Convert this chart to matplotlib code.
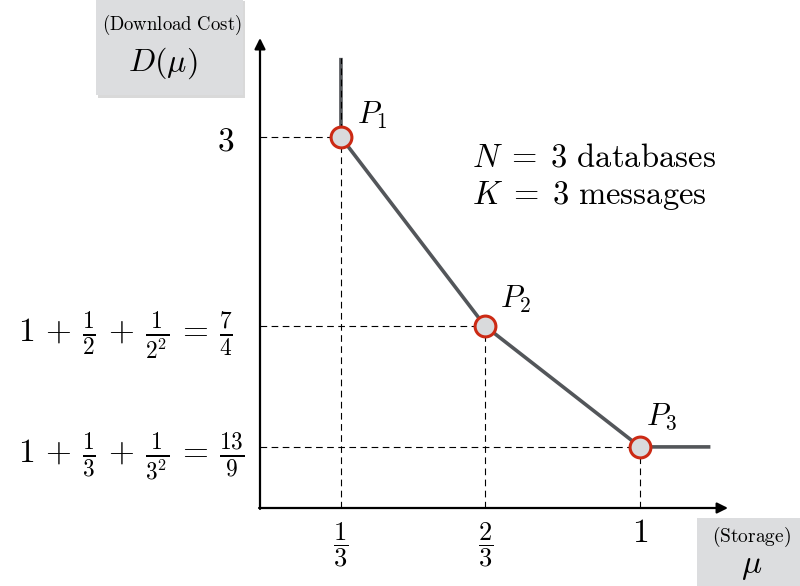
import numpy as np
import matplotlib
matplotlib.use('Agg')
import matplotlib.pyplot as plt
from matplotlib.patches import Rectangle
from matplotlib.transforms import ScaledTranslation

plt.rcParams['mathtext.fontset'] = 'cm'

# corner points of the storage / download cost tradeoff
mu_pts = [1/3, 2/3, 1.0]
D_pts = [3.0, 7/4, 13/9]
pt_names = [r'$P_1$', r'$P_2$', r'$P_3$']

x_ticklabels = [r'$\dfrac{1}{3}$', r'$\dfrac{2}{3}$', r'$1$']
y_ticklabels = [r'$1\,+\,\frac{1}{3}\,+\,\frac{1}{3^2}\,=\,\frac{13}{9}$',
                r'$1\,+\,\frac{1}{2}\,+\,\frac{1}{2^2}\,=\,\frac{7}{4}$',
                r'$3$']

# curve goes up (D -> inf) left of P1 and stays flat right of P3
D_top = 3.48
mu_end = 1.2

# the drawing is schematic, not to scale: piecewise axis mapping
mu_anchor = [0.0, 1/3, 2/3, 1.0, 1.25]
mu_pos = [0.0, 0.173, 0.481, 0.812, 1.0]
D_anchor = [1.0, 13/9, 7/4, 3.0, 3.6]
D_pos = [0.0, 0.130, 0.387, 0.789, 1.0]


def fwd_x(v):
    return np.interp(v, mu_anchor, mu_pos)

def inv_x(v):
    return np.interp(v, mu_pos, mu_anchor)

def fwd_y(v):
    return np.interp(v, D_anchor, D_pos)

def inv_y(v):
    return np.interp(v, D_pos, D_anchor)


fig = plt.figure(figsize=(8, 5.86), dpi=100)
ax = fig.add_axes([0.325, 0.1331, 0.585, 0.802])
ax.set_xscale('function', functions=(fwd_x, inv_x))
ax.set_yscale('function', functions=(fwd_y, inv_y))
ax.set_xlim(0, 1.25)
ax.set_ylim(1, 3.6)

for s in ax.spines.values():
    s.set_visible(False)
arrow = dict(arrowstyle='-|>', color='k', lw=1.6, mutation_scale=16,
             shrinkA=0, shrinkB=0)
ax.annotate('', xy=(1.0, 0), xytext=(-0.002, 0), xycoords='axes fraction',
            arrowprops=arrow, annotation_clip=False)
ax.annotate('', xy=(0, 1.0), xytext=(0, -0.002), xycoords='axes fraction',
            arrowprops=arrow, annotation_clip=False)

# guide lines
dash = dict(color='k', lw=0.8, ls=(0, (6, 4)), zorder=3)
for i in range(len(mu_pts)):
    ax.plot([0, mu_pts[i]], [D_pts[i], D_pts[i]], **dash)
    top = D_top if i == 0 else D_pts[i]
    ax.plot([mu_pts[i], mu_pts[i]], [1, top], **dash)

mu_curve = [mu_pts[0]] + mu_pts + [mu_end]
D_curve = [D_top] + D_pts + [D_pts[-1]]
ax.plot(mu_curve, D_curve, color='#53565a', lw=2.6, zorder=2,
        solid_capstyle='butt')
ax.plot(mu_pts, D_pts, 'o', ms=15, mfc='#d9dadc', mec='#cc2a14', mew=2.2,
        zorder=4)

offsets = [(16, 22), (15, 27), (6, 30)]
for i in range(len(mu_pts)):
    ax.annotate(pt_names[i], (mu_pts[i], D_pts[i]), xytext=offsets[i],
                textcoords='offset pixels', fontsize=22, va='center', ha='left')

ax.set_xticks(mu_pts)
ax.set_xticklabels(x_ticklabels, fontsize=19)
ax.get_xticklabels()[-1].set_fontsize(24)
ax.set_yticks(sorted(D_pts))
ax.set_yticklabels(y_ticklabels, fontsize=24)
ax.tick_params(axis='x', length=0, pad=9)
ax.tick_params(axis='y', length=0, pad=2)
ax.minorticks_off()
# labels are not right-aligned in the original sketch
for lab, dx in zip(ax.get_yticklabels(), [-13, -24, -23]):
    lab.set_transform(lab.get_transform()
                      + ScaledTranslation(dx / 100, 0, fig.dpi_scale_trans))
xl = ax.get_xticklabels()[-1]
xl.set_transform(xl.get_transform()
                 + ScaledTranslation(0, 5 / 100, fig.dpi_scale_trans))

ax.text(0.453, 0.747, r'$N\;=\;3\ \mathrm{databases}$', transform=ax.transAxes,
        fontsize=23.5, va='center', ha='left')
ax.text(0.453, 0.664, r'$K\;=\;3\ \mathrm{messages}$', transform=ax.transAxes,
        fontsize=23.5, va='center', ha='left')

# axis label boxes
W, H = 800.0, 586.0
def label_box(x0, y0, x1, y1):
    fig.add_artist(Rectangle((x0 / W + 0.003, 1 - y1 / H - 0.005),
                             (x1 - x0) / W, (y1 - y0) / H,
                             transform=fig.transFigure, color='#b5b5b5',
                             alpha=0.5, lw=0, zorder=0))
    fig.add_artist(Rectangle((x0 / W, 1 - y1 / H), (x1 - x0) / W, (y1 - y0) / H,
                             transform=fig.transFigure, color='#dcdddf',
                             lw=0, zorder=1))

label_box(96, -2, 243, 95)
fig.text(172 / W, 1 - 25 / H, r'$\mathrm{(Download\ Cost)}$', fontsize=13.5,
         ha='center', va='center')
fig.text(163 / W, 1 - 63 / H, r'$D(\mu)$', fontsize=23, ha='center',
         va='center')

label_box(697, 518, 802, 588)
fig.text(752 / W, 1 - 537 / H, r'$\mathrm{(Storage)}$', fontsize=14,
         ha='center', va='center')
fig.text(752 / W, 1 - 566 / H, r'$\mu$', fontsize=24, ha='center',
         va='center')

fig.savefig('out.png', dpi=100)
